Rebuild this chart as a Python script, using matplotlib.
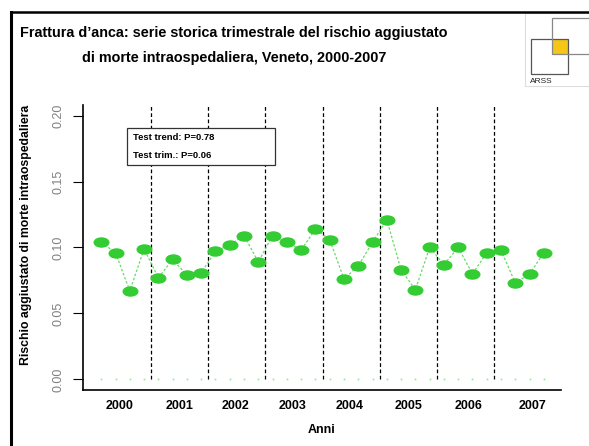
import matplotlib
matplotlib.use("Agg")
import matplotlib.pyplot as plt
from matplotlib.lines import Line2D
from matplotlib.patches import Rectangle
from matplotlib.path import Path

plt.rcParams["font.family"] = ["Liberation Sans", "DejaVu Sans"]

# quarterly adjusted in-hospital mortality risk, 2000-2007 (32 quarters)
quarter = list(range(1, 33))
risk = [0.104, 0.096, 0.067, 0.099, 0.077, 0.091, 0.079, 0.081,
        0.097, 0.102, 0.109, 0.089, 0.109, 0.104, 0.098, 0.114,
        0.106, 0.076, 0.086, 0.104, 0.121, 0.083, 0.068, 0.100,
        0.087, 0.100, 0.080, 0.096, 0.098, 0.073, 0.080, 0.096]
baseline = [0.0] * 32
year_breaks = [4.5, 8.5, 12.5, 16.5, 20.5, 24.5, 28.5]
year_labels = ["2000", "2001", "2002", "2003", "2004", "2005", "2006", "2007"]
year_label_pos = [2.3, 6.5, 10.4, 14.4, 18.4, 22.5, 26.7, 31.2]
y_ticks = [0.00, 0.05, 0.10, 0.15, 0.20]

GREEN = "#33cc33"
LINE_GREEN = "#66dd66"

fig = plt.figure(figsize=(5.89, 4.46), dpi=100)
ax = fig.add_axes([0.1404, 0.1256, 0.8121, 0.639])

# zero series, only faint dots
ax.plot(quarter, baseline, ls="none", marker="s", markersize=1.2,
        color="#88ee88", markeredgewidth=0)

for xb in year_breaks:
    ax.axvline(xb, ymin=0.037, ymax=1.0, color="black", ls=(0, (3, 2)), lw=0.9)

ax.plot(quarter, risk, color=LINE_GREEN, ls=(0, (2, 1.5)), lw=0.9, zorder=3)

circle = Path.unit_circle()
ellipse = Path(circle.vertices * [1.0, 0.62], circle.codes)
ax.plot(quarter, risk, ls="none", marker=ellipse, markersize=10.5,
        color=GREEN, markeredgecolor=GREEN, zorder=4)

ax.set_xlim(-0.3, 33.2)
ax.set_ylim(-0.008, 0.208)
ax.set_yticks(y_ticks)
ax.set_yticklabels([f"{v:.2f}" for v in y_ticks], rotation=90, va="center",
                   color="#808080", fontsize=9)
ax.tick_params(axis="y", length=7, width=0.8, pad=6)
ax.set_xticks(year_label_pos)
ax.set_xticklabels(year_labels, fontsize=9, fontweight="bold")
ax.tick_params(axis="x", length=0, pad=7)
for s in ("top", "right"):
    ax.spines[s].set_visible(False)
for s in ("left", "bottom"):
    ax.spines[s].set_linewidth(1.2)

ax.set_xlabel("Anni", fontsize=9, fontweight="bold", labelpad=9)
ax.set_ylabel("Rischio aggiustato di morte intraospedaliera", fontsize=8.8,
              fontweight="bold", labelpad=15)
ax.yaxis.label.set_y(0.545)

# box with test results
fig.add_artist(Rectangle((126.7 / 589, 1 - 165 / 446), (275 - 126.7) / 589, (165 - 128.3) / 446,
                         transform=fig.transFigure, fc="white", ec="#333333", lw=0.9))
fig.text(133 / 589, 1 - 137.5 / 446, "Test trend: P=0.78", fontsize=6.8,
         fontweight="bold", va="center")
fig.text(133 / 589, 1 - 155.5 / 446, "Test trim.: P=0.06", fontsize=6.8,
         fontweight="bold", va="center")

fig.text(0.397, 1 - 33 / 446,
         "Frattura d\u2019anca: serie storica trimestrale del rischio aggiustato",
         ha="center", va="center", fontsize=10.4, fontweight="bold")
fig.text(0.397, 1 - 58 / 446,
         "di morte intraospedaliera, Veneto, 2000-2007",
         ha="center", va="center", fontsize=10.4, fontweight="bold")

# outer frame (left and top edges)
fig.add_artist(Line2D([10.5 / 589, 10.5 / 589], [0, 1 - 12 / 446], color="black",
                      lw=2.2, transform=fig.transFigure, solid_capstyle="projecting"))
fig.add_artist(Line2D([10.5 / 589, 1], [1 - 12 / 446, 1 - 12 / 446], color="black",
                      lw=1.8, transform=fig.transFigure))

# logo
fig.add_artist(Rectangle((525 / 589, 1 - 86 / 446), 64 / 589, (86 - 13) / 446,
                         transform=fig.transFigure, fill=False, ec="#dddddd", lw=0.8))
fig.add_artist(Rectangle((551.7 / 589, 1 - 54 / 446), 16.6 / 589, (54 - 39) / 446,
                         transform=fig.transFigure, fc="#f5c518", ec="none"))
fig.add_artist(Rectangle((530.7 / 589, 1 - 74.3 / 446), 37.6 / 589, (74.3 - 39) / 446,
                         transform=fig.transFigure, fill=False, ec="#555555", lw=0.9))
fig.add_artist(Rectangle((551.7 / 589, 1 - 54 / 446), 40 / 589, (54 - 18.3) / 446,
                         transform=fig.transFigure, fill=False, ec="#888888", lw=0.9))
fig.text(530 / 589, 1 - 81.5 / 446, "ARSS", fontsize=6, va="center", color="#222222")

fig.savefig("out.png", dpi=100)
